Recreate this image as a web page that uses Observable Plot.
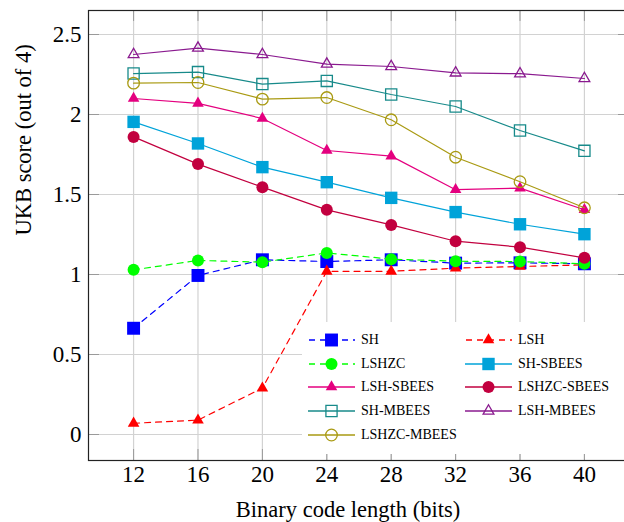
<!DOCTYPE html>
<html>
<head>
<meta charset="utf-8">
<script src="https://cdn.jsdelivr.net/npm/d3@7"></script>
<script src="https://cdn.jsdelivr.net/npm/@observablehq/plot@0.6"></script>
<style>
html, body { margin: 0; padding: 0; background: #fff; overflow: hidden; }
#wrap { position: relative; width: 624px; height: 522px; overflow: hidden; }
#wrap svg { display: block; }
#legend { position: absolute; left: 302px; top: 322px; width: 330px; height: 132px; background: #fff;
  font-family: "Liberation Serif", "DejaVu Serif", serif; font-size: 14px; color: #000; }
.entry { position: absolute; height: 20px; display: flex; align-items: center; white-space: nowrap; }
.entry svg { margin-right: 6px; overflow: visible; }
</style>
</head>
<body>
<div id="wrap"><div id="legend"></div></div>
<script>
// ---- data ----
const bits = [12, 16, 20, 24, 28, 32, 36, 40];
const yTicks = [0, 0.5, 1, 1.5, 2, 2.5];
const seriesNames = ["SH", "LSH", "LSHZC", "SH-SBEES", "LSH-SBEES", "LSHZC-SBEES", "SH-MBEES", "LSH-MBEES", "LSHZC-MBEES"];
const SH          = [0.664, 0.994, 1.092, 1.081, 1.092, 1.071, 1.073, 1.067];
const LSH         = [0.07, 0.09, 0.29, 1.02, 1.02, 1.04, 1.05, 1.06];
const LSHZC       = [1.029, 1.088, 1.077, 1.135, 1.096, 1.083, 1.081, 1.067];
const SH_SBEES    = [1.954, 1.819, 1.671, 1.577, 1.479, 1.39, 1.314, 1.252];
const LSH_SBEES   = [2.10, 2.07, 1.975, 1.775, 1.74, 1.53, 1.54, 1.405];
const LSHZC_SBEES = [1.86, 1.69, 1.546, 1.404, 1.31, 1.208, 1.171, 1.104];
const SH_MBEES    = [2.256, 2.265, 2.19, 2.21, 2.125, 2.05, 1.90, 1.773];
const LSH_MBEES   = [2.375, 2.415, 2.375, 2.315, 2.30, 2.26, 2.255, 2.225];
const LSHZC_MBEES = [2.196, 2.20, 2.096, 2.106, 1.967, 1.733, 1.58, 1.417];
const xLabel = "Binary code length (bits)";
const yLabel = "UKB score (out of 4)";

// ---- styles ----
const seriesValues = [SH, LSH, LSHZC, SH_SBEES, LSH_SBEES, LSHZC_SBEES, SH_MBEES, LSH_MBEES, LSHZC_MBEES];
const styles = [
  {color: "#0000ff", symbol: "square",   r: 7.3, filled: true,  dash: "6,5"},
  {color: "#ff0000", symbol: "triangle", r: 4.3, filled: true,  dash: "6,5"},
  {color: "#00ff00", symbol: "circle",   r: 6.0, filled: true,  dash: "6,5"},
  {color: "#00a3d9", symbol: "square",   r: 7.0, filled: true,  dash: null},
  {color: "#e4007f", symbol: "triangle", r: 4.3, filled: true,  dash: null},
  {color: "#c2003f", symbol: "circle",   r: 6.0, filled: true,  dash: null},
  {color: "#178a8a", symbol: "square",   r: 6.3, filled: false, dash: null},
  {color: "#8a1a8f", symbol: "triangle", r: 4.0, filled: false, dash: null},
  {color: "#a99a12", symbol: "circle",   r: 5.8, filled: false, dash: null}
];

const font = '"Liberation Serif", "DejaVu Serif", serif';
const marks = [
  Plot.gridX(bits, {stroke: "#d2d2d2", strokeOpacity: 1, strokeWidth: 1.2}),
  Plot.gridY(yTicks, {stroke: "#d2d2d2", strokeOpacity: 1, strokeWidth: 1.2}),
  Plot.tickX(bits, {x: d => d, stroke: "#9a9a9a", insetTop: 439}),
  Plot.tickX(bits, {x: d => d, stroke: "#9a9a9a", insetBottom: 439}),
  Plot.tickY(yTicks, {y: d => d, stroke: "#9a9a9a", insetRight: 530}),
  Plot.tickY(yTicks, {y: d => d, stroke: "#9a9a9a", insetLeft: 530})
];
seriesNames.forEach((name, i) => {
  const s = styles[i];
  const rows = bits.map((b, j) => ({bits: b, score: seriesValues[i][j]}));
  marks.push(Plot.line(rows, {x: "bits", y: "score", stroke: s.color, strokeWidth: 1.2,
    strokeDasharray: s.dash || undefined}));
  marks.push(Plot.dot(rows, {x: "bits", y: "score", symbol: s.symbol, r: s.r,
    fill: s.filled ? s.color : "none", stroke: s.filled ? "none" : s.color, strokeWidth: 1.3}));
});
marks.push(
  Plot.frame({stroke: "#222", strokeWidth: 1.2}),
  Plot.axisX(bits, {tickSize: 0, tickPadding: 5, fontSize: 23, label: null}),
  Plot.axisY(yTicks, {tickSize: 0, tickPadding: 7, fontSize: 23, label: null, tickFormat: d => String(d)}),
  Plot.text([xLabel], {text: d => d, frameAnchor: "bottom", dy: 56, dx: -11, fontSize: 22.5}),
  Plot.text([yLabel], {text: d => d, frameAnchor: "left", rotate: -90, dx: -65, fontSize: 22.5})
);

const chart = Plot.plot({
  width: 632, height: 522,
  marginLeft: 88, marginRight: 3, marginTop: 10, marginBottom: 62,
  style: {fontFamily: font, color: "#000", background: "#fff", maxWidth: "none"},
  x: {domain: [9.2, 42.8]},
  y: {domain: [-0.1625, 2.65]},
  marks
});
const wrap = document.getElementById("wrap");
wrap.insertBefore(chart, wrap.firstChild);

// ---- legend ----
const legend = document.getElementById("legend");
const rowY = [18, 41.5, 65.3, 89, 113];
seriesNames.forEach((name, i) => {
  const s = styles[i];
  const col = i % 2, row = Math.floor(i / 2);
  const e = document.createElement("div");
  e.className = "entry";
  e.style.left = (col === 0 ? 6 : 163) + "px";
  e.style.top = (rowY[row] - 10) + "px";
  const sym = {square: d3.symbolSquare, triangle: d3.symbolTriangle, circle: d3.symbolCircle}[s.symbol];
  const path = d3.symbol(sym, Math.PI * s.r * s.r)();
  const svg = d3.create("svg").attr("width", 47).attr("height", 20);
  svg.append("line").attr("x1", 0).attr("x2", 47).attr("y1", 10).attr("y2", 10)
    .attr("stroke", s.color).attr("stroke-width", 1.3)
    .attr("stroke-dasharray", s.dash ? "6,5" : null)
    .attr("stroke-dashoffset", s.dash ? -1 : null);
  svg.append("path").attr("d", path).attr("transform", "translate(23.5,10)")
    .attr("fill", s.filled ? s.color : "none")
    .attr("stroke", s.filled ? "none" : s.color).attr("stroke-width", 1.3);
  e.appendChild(svg.node());
  const t = document.createElement("span");
  t.textContent = name;
  e.appendChild(t);
  legend.appendChild(e);
});
</script>
</body>
</html>
